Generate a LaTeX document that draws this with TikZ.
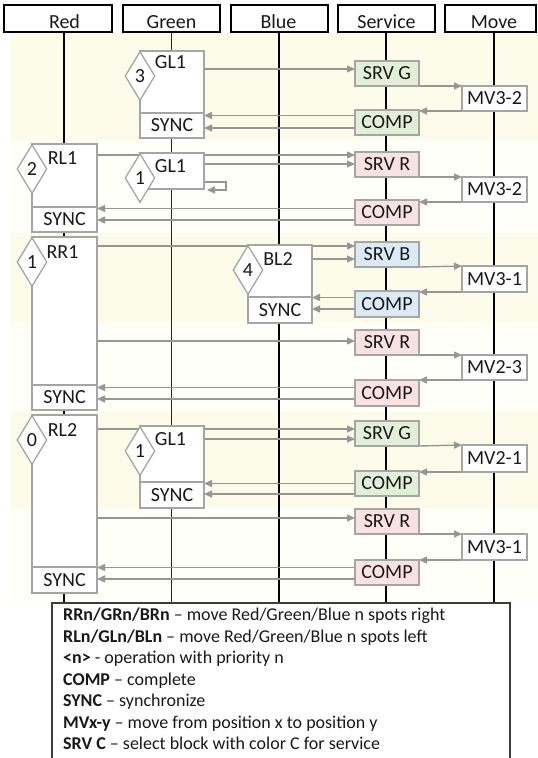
\documentclass[tikz,border=0pt]{standalone}
\usepackage{fontspec}
\setmainfont{Carlito}
\usetikzlibrary{arrows.meta,shapes.geometric}
\pgfdeclarelayer{bg}\pgfdeclarelayer{mid}\pgfsetlayers{bg,mid,main}
\definecolor{bandy}{RGB}{253,251,233}
\definecolor{bandw}{RGB}{255,255,250}
\definecolor{bxg}{RGB}{165,165,165}
\definecolor{arr}{RGB}{150,150,150}
\definecolor{fg}{RGB}{226,240,217}
\definecolor{fr}{RGB}{251,226,226}
\definecolor{fb}{RGB}{220,233,246}
\definecolor{txt}{RGB}{25,25,25}
\definecolor{legc}{RGB}{60,60,60}
\tikzset{
 hdr/.style={draw=black, line width=1.8pt, fill=white, minimum height=27pt, inner sep=0pt, outer sep=0pt, anchor=north west},
 htxt/.style={font=\fontsize{20}{24}\selectfont, text=txt, anchor=base, inner sep=0pt},
 act/.style={draw=bxg, line width=1.3pt, fill=white, inner sep=0pt, outer sep=0pt, anchor=north west, minimum width=64pt, font=\fontsize{20}{24}\selectfont, text=txt},
 srvbox/.style={act, minimum height=25pt},
 mvbox/.style={act, minimum width=65pt, minimum height=25pt},
 prio/.style={diamond, aspect=0.6, draw=bxg, line width=1.3pt, fill=white, minimum width=30pt, minimum height=49pt, inner sep=0pt, font=\fontsize{20}{24}\selectfont, text=txt},
 lbl/.style={font=\fontsize{20}{24}\selectfont, text=txt, anchor=north, inner sep=0pt},
 msg/.style={draw=arr, line width=1.4pt, -{Triangle[length=8pt,width=7pt]}},
 life/.style={draw=black, line width=2pt},
 lifethin/.style={draw=black!85, line width=1pt},
}
\begin{document}
\begin{tikzpicture}[x=1pt,y=-1pt]
\useasboundingbox (0,0) rectangle (538,758);
% headers
\node[hdr, minimum width=108pt] (hR) at (4,5) {};
\node[hdr, minimum width=97pt] (hG) at (123,5) {};
\node[hdr, minimum width=97pt] (hB) at (231,5) {};
\node[hdr, minimum width=97pt] (hS) at (338,5) {};
\node[hdr, minimum width=91pt] (hM) at (445,5) {};
\node[htxt] (tR) at (64.5,28.5) {Red};
\node[htxt] (tG) at (171.5,28.5) {Green};
\node[htxt] (tB) at (278.5,28.5) {Blue};
\node[htxt] (tS) at (386.5,28.5) {Service};
\node[htxt] (tM) at (494,28.5) {Move};
% legend
\node[draw=legc, line width=1.3pt, fill=white, anchor=north west, minimum width=458pt, minimum height=162pt, inner sep=0pt, outer sep=0pt] (leg) at (52,603) {};
\node[anchor=north west, align=left, inner sep=0pt, text=txt, font=\fontsize{18}{21.5}\selectfont] (legt) at (63,608) {%
\textbf{RRn/GRn/BRn} – move Red/Green/Blue n spots right\\
\textbf{RLn/GLn/BLn} – move Red/Green/Blue n spots left\\
\textbf{<n>} - operation with priority n\\
\textbf{COMP} – complete\\
\textbf{SYNC} – synchronize\\
\textbf{MVx-y} – move from position x to position y\\
\textbf{SRV C} – select block with color C for service};

% ---------- section 1
\node[act, minimum height=62pt] (g1) at (140,51) {};
\node[act, minimum height=25pt] (g1s) at (140,113) {SYNC};
\node[prio, yshift=-25pt] (d1) at (g1.north west) {3};
\node[lbl] (l1) at (170.5,55.5) {GL1};
\node[srvbox, fill=fg] (sg1) at (355,61) {SRV G};
\node[mvbox] (mv1) at (462,86) {MV3-2};
\node[srvbox, fill=fg] (c1) at (355,110) {COMP};
% ---------- section 2
\node[act, minimum width=65pt, minimum height=63pt] (r2) at (32,144) {};
\node[act, minimum width=65pt, minimum height=25pt] (r2s) at (32,207) {SYNC};
\node[prio, yshift=-25pt] (d2) at (r2.north west) {2};
\node[lbl] (l2) at (62.5,151) {RL1};
\node[act, minimum height=36pt] (g2) at (140,153) {};
\node[prio, yshift=-25pt] (d2g) at (g2.north west) {1};
\node[lbl] (l2g) at (170.5,159) {GL1};
\node[srvbox, fill=fr] (sr2) at (355,152) {SRV R};
\node[mvbox] (mv2) at (462,177) {MV3-2};
\node[srvbox, fill=fr] (c2) at (355,200) {COMP};
% ---------- section 3
\node[act, minimum width=65pt, minimum height=148pt] (r3) at (32,237) {};
\node[act, minimum width=65pt, minimum height=25pt] (r3s) at (32,385) {SYNC};
\node[prio, yshift=-25pt] (d3) at (r3.north west) {1};
\node[lbl] (l3) at (62.5,245) {RR1};
\node[act, minimum height=52pt] (b3) at (248,245) {};
\node[act, minimum height=26pt] (b3s) at (248,297) {SYNC};
\node[prio, yshift=-25pt] (d3b) at (b3.north west) {4};
\node[lbl] (l3b) at (278,252) {BL2};
\node[srvbox, fill=fb] (sb3) at (355,242) {SRV B};
\node[mvbox, minimum height=26pt] (mv3) at (462,266) {MV3-1};
\node[srvbox, fill=fb, minimum height=26pt] (c3) at (355,291) {COMP};
\node[srvbox, fill=fr] (sr3) at (355,330) {SRV R};
\node[mvbox] (mv3b) at (462,355) {MV2-3};
\node[srvbox, fill=fr, minimum height=26pt] (c3b) at (355,380) {COMP};
% ---------- section 4
\node[act, minimum width=65pt, minimum height=152pt] (r4) at (32,415) {};
\node[act, minimum width=65pt, minimum height=26pt] (r4s) at (32,567) {SYNC};
\node[prio, yshift=-25pt] (d4) at (r4.north west) {0};
\node[lbl] (l4) at (62.5,423) {RL2};
\node[act, minimum height=56pt] (g4) at (140,426) {};
\node[act, minimum height=26pt] (g4s) at (140,482) {SYNC};
\node[prio, yshift=-25pt] (d4g) at (g4.north west) {1};
\node[lbl] (l4g) at (170.5,432) {GL1};
\node[srvbox, fill=fg] (sg4) at (355,421) {SRV G};
\node[mvbox, minimum height=27pt] (mv4) at (462,445) {MV2-1};
\node[srvbox, fill=fg] (c4) at (355,471) {COMP};
\node[srvbox, fill=fr] (sr4) at (355,509) {SRV R};
\node[mvbox, minimum height=26pt] (mv4b) at (462,534) {MV3-1};
\node[srvbox, fill=fr] (c4b) at (355,560) {COMP};

% ---------- background: bands and lifelines
\begin{pgfonlayer}{bg}
\fill[bandy] (10,33) rectangle (538,140);
\fill[bandw] (10,140) rectangle (538,233);
\fill[bandy] (10,233) rectangle (538,323);
\fill[bandw] (10,323) rectangle (538,412);
\fill[bandy] (10,412) rectangle (538,508);
\fill[bandw] (10,508) rectangle (538,603);
\draw[life] ([xshift=6pt]hR.south) -- ([xshift=6pt]hR.south |- leg.north);
\draw[lifethin] (hG.south) -- (hG.south |- leg.north);
\draw[life] ([xshift=-0.5pt]hB.south) -- ([xshift=-0.5pt]hB.south |- leg.north);
\draw[life] ([xshift=-0.5pt]hS.south) -- ([xshift=-0.5pt]hS.south |- leg.north);
\draw[life] ([xshift=3.5pt]hM.south) -- ([xshift=3.5pt]hM.south |- leg.north);
\end{pgfonlayer}

% ---------- messages
\begin{pgfonlayer}{mid}
% section 1
\draw[msg] (g1.east |- 0,69) -- (sg1.west |- 0,69);
\draw[msg] (sg1.south east) -- (mv1.north west);
\draw[msg] (mv1.south west) -- (mv1.south west -| c1.east);
\draw[msg] (c1.west |- 0,115.5) -- (g1s.east |- 0,115.5);
\draw[msg] (c1.west |- 0,128) -- (g1s.east |- 0,128);
% section 2
\draw[msg] (r2.east |- 0,155) -- (sr2.west |- 0,155);
\draw[msg] (g2.east |- 0,164) -- (sr2.west |- 0,164);
\draw[msg] ([yshift=-29pt]g2.north east) -- ++(22,0) -- ++(0,8) -- ++(-19,0);
\draw[msg] (sr2.south east) -- (mv2.north west);
\draw[msg] (mv2.south west) -- (mv2.south west -| c2.east);
\draw[msg] (c2.west |- 0,208.5) -- (r2s.east |- 0,208.5);
\draw[msg] (c2.west |- 0,220) -- (r2s.east |- 0,220);
% section 3
\draw[msg] (r3.east |- 0,246) -- (sb3.west |- 0,246);
\draw[msg] (b3.east |- 0,259) -- (sb3.west |- 0,259);
\draw[msg] (sb3.south east) -- (mv3.north west);
\draw[msg] (mv3.south west) -- (mv3.south west -| c3.east);
\draw[msg] (c3.west |- 0,297.5) -- (b3.east |- 0,297.5);
\draw[msg] (c3.west |- 0,309) -- (b3s.east |- 0,309);
\draw[msg] (r3.east |- 0,341) -- (sr3.west |- 0,341);
\draw[msg] (sr3.south east) -- (mv3b.north west);
\draw[msg] (mv3b.south west) -- (mv3b.south west -| c3b.east);
\draw[msg] (c3b.west |- 0,387.5) -- (r3s.east |- 0,387.5);
\draw[msg] (c3b.west |- 0,399) -- (r3s.east |- 0,399);
% section 4
\draw[msg] (r4.east |- 0,429) -- (sg4.west |- 0,429);
\draw[msg] (g4.east |- 0,439) -- (sg4.west |- 0,439);
\draw[msg] (sg4.south east) -- (mv4.north west);
\draw[msg] (mv4.south west) -- (mv4.south west -| c4.east);
\draw[msg] (c4.west |- 0,483.5) -- (g4s.east |- 0,483.5);
\draw[msg] (c4.west |- 0,494) -- (g4s.east |- 0,494);
\draw[msg] (r4.east |- 0,518) -- (sr4.west |- 0,518);
\draw[msg] (sr4.south east) -- (mv4b.north west);
\draw[msg] (mv4b.south west) -- (mv4b.south west -| c4b.east);
\draw[msg] (c4b.west |- 0,567.5) -- (r4s.east |- 0,567.5);
\draw[msg] (c4b.west |- 0,579) -- (r4s.east |- 0,579);
\end{pgfonlayer}
\end{tikzpicture}
\end{document}
